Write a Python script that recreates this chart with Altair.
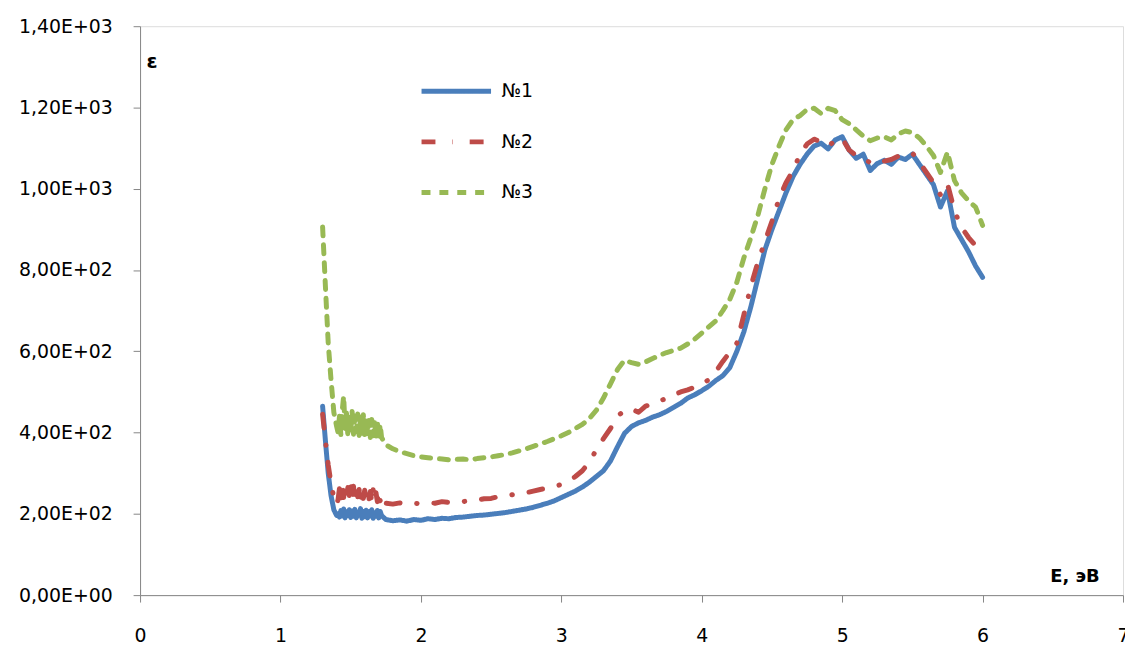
import altair as alt
import pandas as pd

series_names = ["№1", "№2", "№3"]
colors = ["#4A7EBB", "#BE4B48", "#98B954"]
x_ticks = [0, 1, 2, 3, 4, 5, 6, 7]
y_ticks = [0, 200, 400, 600, 800, 1000, 1200, 1400]

energy = [1.30, 1.32, 1.34, 1.36, 1.38, 1.40,
          1.41, 1.42, 1.43, 1.44, 1.45, 1.46, 1.47, 1.48, 1.49, 1.50,
          1.51, 1.52, 1.53, 1.54, 1.55, 1.56, 1.57, 1.58, 1.59, 1.60,
          1.61, 1.62, 1.63, 1.64, 1.65, 1.66, 1.67, 1.68, 1.69, 1.70,
          1.71, 1.72,
          1.75, 1.80, 1.85, 1.90, 1.95, 2.00, 2.05, 2.10, 2.15, 2.20,
          2.25, 2.30, 2.35, 2.40, 2.45, 2.50, 2.55, 2.60, 2.65, 2.70,
          2.75, 2.80, 2.85, 2.90, 2.95, 3.00,
          3.05, 3.10, 3.15, 3.20, 3.25, 3.30, 3.35, 3.40, 3.45, 3.50,
          3.55, 3.60, 3.65, 3.70, 3.75, 3.80, 3.85, 3.90, 3.95, 4.00,
          4.05, 4.10, 4.15, 4.20, 4.25, 4.30, 4.35, 4.40, 4.45, 4.50,
          4.55, 4.60, 4.65, 4.70, 4.75, 4.80, 4.85, 4.90, 4.95, 5.00,
          5.05, 5.10, 5.15, 5.20, 5.25, 5.30, 5.35, 5.40, 5.45, 5.50,
          5.55, 5.60, 5.65, 5.70, 5.75, 5.80, 5.85, 5.90, 5.95, 6.00]

eps1 = [465, 380, 300, 245, 210, 196,
        200, 192, 208, 195, 212, 190, 205, 196, 210, 191,
        207, 194, 211, 190, 204, 197, 213, 189, 206, 193,
        209, 190, 205, 195, 210, 189, 203, 194, 208, 190,
        206, 196,
        186, 183, 185, 182, 186, 184, 188, 186, 189, 188,
        191, 192, 194, 196, 197, 199, 201, 203, 206, 209,
        212, 216, 221, 226, 232, 240,
        248, 256, 266, 278, 292, 306, 330, 365, 398, 415,
        424, 430, 438, 444, 452, 462, 472, 485, 493, 503,
        514, 528, 540, 560, 600, 648, 710, 780, 850, 900,
        945, 990, 1030, 1060, 1085, 1105, 1112, 1098, 1120, 1128,
        1095, 1075, 1085, 1045, 1062, 1070, 1060, 1078, 1072, 1085,
        1060, 1035, 1010, 955, 995, 905, 875, 845, 810, 782]

eps2 = [445, 380, 320, 275, 240, 222,
        235, 262, 228, 270, 240, 275, 232, 265, 245, 278,
        236, 268, 230, 272, 242, 260, 228, 266, 238, 258,
        230, 262, 236, 255, 228, 260, 234, 252, 230, 256,
        232, 248,
        226, 224, 227, 223, 226, 225, 228, 226, 230, 228,
        231, 230, 233, 234, 237, 238, 242, 244, 247, 250,
        252, 256, 260, 263, 268, 272,
        280, 292, 306, 328, 358, 385, 410, 440, 455, 458,
        450, 465, 470, 478, 484, 492, 500, 505, 512, 520,
        530, 550, 575, 598, 620, 690, 760, 820, 870, 920,
        975, 1015, 1045, 1085, 1110, 1122, 1115, 1105, 1118, 1124,
        1095, 1082, 1075, 1064, 1060, 1068, 1072, 1080, 1086, 1088,
        1065, 1040, 1015, 985, 1012, 945, 905, 880, 860, 838]

eps3 = [906, 760, 620, 530, 450, 415,
        400, 440, 395, 455, 490, 410, 448, 392, 445, 400,
        452, 396, 440, 402, 446, 393, 438, 398, 444, 390,
        435, 395, 430, 388, 432, 392, 425, 386, 428, 384,
        420, 388,
        370, 360, 353, 348, 343, 340, 338, 336, 335, 333,
        334, 335, 333, 336, 338, 340, 343, 346, 350, 355,
        360, 366, 372, 378, 385, 392,
        400, 410, 420, 435, 455, 485, 520, 555, 578, 572,
        568, 574, 582, 590, 597, 602, 608, 618, 630, 645,
        660, 675, 700, 728, 770, 830, 880, 935, 1000, 1060,
        1105, 1145, 1170, 1180, 1195, 1198, 1185, 1198, 1192, 1170,
        1160, 1145, 1130, 1118, 1125, 1128, 1120, 1135, 1142, 1138,
        1125, 1105, 1082, 1040, 1090, 1020, 990, 970, 955, 910]

rows = []
for name, vals in zip(series_names, [eps1, eps2, eps3]):
    for i, (e, v) in enumerate(zip(energy, vals)):
        rows.append({"E": e, "eps": v, "series": name, "order": i})
df = pd.DataFrame(rows)

FONT = "DejaVu Sans"

y_label_expr = (
    "datum.value >= 1000 ? replace(format(datum.value / 1000, '.2f'), '.', ',') + 'E+03' : "
    "(datum.value > 0 ? replace(format(datum.value / 100, '.2f'), '.', ',') + 'E+02' : '0,00E+00')"
)

legend = alt.Legend(title=None, orient="none", legendX=281, legendY=28,
                    symbolType="stroke", symbolSize=4900, symbolStrokeWidth=5,
                    labelFont=FONT, labelFontSize=19, labelColor="#000000",
                    labelOffset=8, rowPadding=3)

chart = alt.Chart(df).mark_line(strokeWidth=5, strokeCap="round", strokeJoin="round").encode(
    x=alt.X("E:Q",
            scale=alt.Scale(domain=[0, 7], nice=False, zero=False),
            axis=alt.Axis(values=x_ticks, grid=False, title="E, эВ",
                          titleX=966, titleY=-19, titleAlign="right", titleBaseline="middle",
                          titleFont=FONT, titleFontSize=18, titleFontWeight="bold", titleColor="#000000",
                          labelFont=FONT, labelFontSize=19, labelColor="#000000",
                          labelPadding=25, tickSize=7, tickColor="#868686", domainColor="#868686",
                          labelFlush=False)),
    y=alt.Y("eps:Q",
            scale=alt.Scale(domain=[0, 1400], nice=False),
            axis=alt.Axis(values=y_ticks, grid=False, title="ε", labelExpr=y_label_expr,
                          titleAngle=0, titleX=6, titleY=36, titleAlign="left", titleBaseline="middle",
                          titleFont=FONT, titleFontSize=20, titleFontWeight="bold", titleColor="#000000",
                          labelFont=FONT, labelFontSize=19, labelColor="#000000",
                          labelPadding=21, tickSize=7, tickColor="#868686", domainColor="#868686")),
    color=alt.Color("series:N",
                    scale=alt.Scale(domain=series_names, range=colors),
                    legend=legend),
    strokeDash=alt.StrokeDash("series:N",
                              scale=alt.Scale(domain=series_names,
                                              range=[[1, 0], [14, 17, 0.5, 17], [9, 9]]),
                              legend=legend),
    order="order:Q",
).properties(
    width=990, height=573,
    autosize=alt.AutoSizeParams(type="none"),
    padding={"left": 133, "top": 16, "right": 2, "bottom": 60},
).configure_view(stroke=None).configure(background="white")

chart.save("out.html", embed_options={"renderer": "svg", "actions": False})
